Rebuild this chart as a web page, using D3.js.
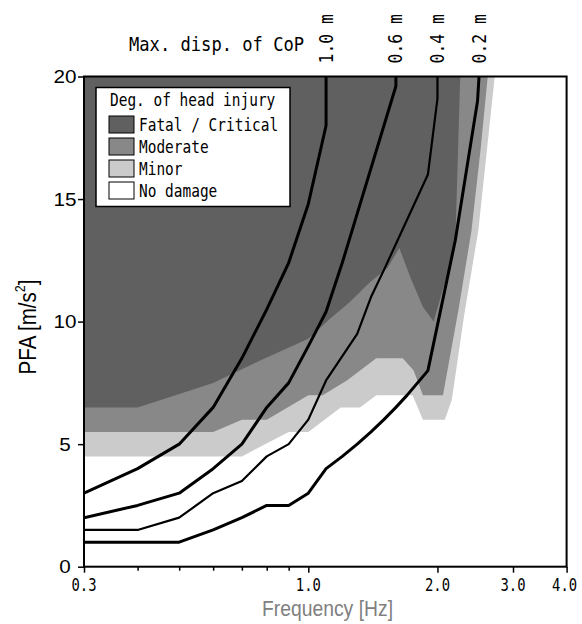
<!DOCTYPE html>
<html>
<head>
<meta charset="utf-8">
<script src="https://cdn.jsdelivr.net/npm/d3@7"></script>
<style>
  html, body { margin: 0; padding: 0; background: #fff; }
  svg { display: block; }
</style>
</head>
<body>
<svg id="chart" width="582" height="624"></svg>
<script>
// ---- data -------------------------------------------------------------
const freqMajorTicks = [0.3, 1.0, 2.0, 3.0, 4.0];
const freqMinorTicks = [0.4, 0.5, 0.6, 0.7, 0.8, 0.9];
const pfaTicks = [0, 5, 10, 15, 20];

// Lower edge of each injury zone as [frequency Hz, PFA m/s^2],
// running left to right and then up the right-hand edge to the top.
const minorEdge = [[0.3,4.5],[0.7,4.5],[0.9,5.5],[1.0,5.5],[1.19,6.5],[1.32,6.5],[1.44,7.0],
  [1.75,7.0],[1.85,6.0],[2.08,6.0],[2.16,6.8],[2.31,10.3],[2.49,13.7],[2.72,20]];
const moderateEdge = [[0.3,5.5],[0.6,5.5],[0.7,6.0],[0.8,6.0],[1.0,7.0],[1.08,7.0],[1.23,7.6],
  [1.44,8.5],[1.66,8.5],[1.76,8.0],[1.85,7.0],[2.06,7.0],[2.24,10.5],[2.4,13.7],[2.52,17],[2.62,20]];
const fatalEdge = [[0.3,6.5],[0.4,6.5],[0.6,7.5],[0.77,8.4],[1.0,9.3],[1.12,10.1],[1.25,10.8],
  [1.39,11.6],[1.53,12.2],[1.63,13.0],[1.73,11.8],[1.85,10.6],[1.96,10.0],[2.2,13.1],[2.26,20]];

// Contours of the maximum displacement of the centre of pressure
const cop10 = [[0.3,3.0],[0.4,4.0],[0.5,5.0],[0.6,6.5],[0.7,8.5],[0.8,10.5],[0.9,12.4],
  [1.0,14.8],[1.1,18.0],[1.1,20]];
const cop06 = [[0.3,2.0],[0.4,2.5],[0.5,3.0],[0.6,4.0],[0.7,5.0],[0.8,6.5],[0.9,7.5],
  [1.0,9.0],[1.1,10.4],[1.2,12.4],[1.6,19.6],[1.6,20]];
const cop04 = [[0.3,1.5],[0.4,1.5],[0.5,2.0],[0.6,3.0],[0.7,3.5],[0.8,4.5],[0.9,5.0],
  [1.0,6.0],[1.1,7.6],[1.3,9.5],[1.4,11.0],[1.5,12.1],[1.9,16.0],[2.0,19.1],[2.0,20]];
const cop02 = [[0.3,1.0],[0.5,1.0],[0.6,1.5],[0.7,2.0],[0.8,2.5],[0.9,2.5],[1.0,3.0],
  [1.1,4.0],[1.2,4.5],[1.3,5.0],[1.4,5.5],[1.5,6.0],[1.6,6.5],[1.7,7.0],[1.9,8.0],
  [2.2,13.3],[2.48,19.0],[2.5,20]];
const copLabels = ["1.0 m", "0.6 m", "0.4 m", "0.2 m"];

const legendTitle = "Deg. of head injury";
const legendLabels = ["Fatal / Critical", "Moderate", "Minor", "No damage"];

// ---- layout -----------------------------------------------------------
const svg = d3.select("#chart");
const plot = { left: 84, right: 566.6, top: 76.5, bottom: 566.7 };
const x = d3.scaleLog().domain([0.3, 4.0]).range([plot.left, plot.right]);
const y = d3.scaleLinear().domain([0, 20]).range([plot.bottom, plot.top]);

const zoneColors = ["#606060", "#888888", "#cbcbcb", "#ffffff"];
const monoFont = "'DejaVu Sans Mono', monospace";
const sansFont = "'Liberation Sans', Arial, sans-serif";

// squeezed monospace text: each character gets a fixed pitch
function monoText(sel, str, size, pitch) {
  return sel.text(str)
    .attr("font-family", monoFont)
    .attr("font-size", size)
    .attr("textLength", str.length * pitch)
    .attr("lengthAdjust", "spacingAndGlyphs");
}

svg.append("defs").append("clipPath").attr("id", "plotClip")
  .append("rect")
  .attr("x", plot.left).attr("y", plot.top)
  .attr("width", plot.right - plot.left).attr("height", plot.bottom - plot.top);

const area = svg.append("g").attr("clip-path", "url(#plotClip)");
const path = d3.line().x(d => x(d[0])).y(d => y(d[1]));

// injury zones, each closed along the top and the left edge
[[minorEdge, zoneColors[2]], [moderateEdge, zoneColors[1]], [fatalEdge, zoneColors[0]]]
  .forEach(([edge, col]) => {
    const poly = edge.concat([[0.3, 20]]);
    area.append("path").attr("d", path(poly) + "Z").attr("fill", col).attr("stroke", "none");
  });

// displacement contours
const copLines = [cop10, cop06, cop04, cop02];
const copWidths = [3, 3, 2.2, 3];
copLines.forEach((pts, i) => {
  area.append("path").attr("d", path(pts))
    .attr("fill", "none").attr("stroke", "#000")
    .attr("stroke-width", copWidths[i]).attr("stroke-linejoin", "round");
});

// frame
svg.append("rect")
  .attr("x", plot.left).attr("y", plot.top)
  .attr("width", plot.right - plot.left).attr("height", plot.bottom - plot.top)
  .attr("fill", "none").attr("stroke", "#000").attr("stroke-width", 2);

// x axis ticks
const xAxisMajor = d3.axisBottom(x).tickValues(freqMajorTicks).tickSize(6).tickFormat("");
const xAxisMinor = d3.axisBottom(x).tickValues(freqMinorTicks).tickSize(4).tickFormat("");
[xAxisMajor, xAxisMinor].forEach(ax => {
  const g = svg.append("g").attr("transform", `translate(0,${plot.bottom})`).call(ax);
  g.select(".domain").remove();
  g.selectAll("line").attr("stroke", "#000").attr("stroke-width", 1.5);
});
// tick labels: narrowed monospace digits
freqMajorTicks.forEach(v => {
  svg.append("text")
    .attr("transform", `translate(${x(v) - (v === 4.0 ? 2 : 0)},591) scale(0.77,1)`)
    .attr("text-anchor", "middle").attr("fill", "#000")
    .attr("font-family", monoFont).attr("font-size", 18)
    .text(v.toFixed(1));
});

// y axis ticks
const yAxis = d3.axisLeft(y).tickValues(pfaTicks).tickSize(6).tickFormat("");
const yg = svg.append("g").attr("transform", `translate(${plot.left},0)`).call(yAxis);
yg.select(".domain").remove();
yg.selectAll("line").attr("stroke", "#000").attr("stroke-width", 1.5);
pfaTicks.forEach(v => {
  const s = String(v);
  svg.append("text").attr("x", 65).attr("y", y(v) + 6.5)
    .attr("text-anchor", "middle")
    .attr("font-family", sansFont).attr("font-size", 18)
    .attr("textLength", s.length * 11.5).attr("lengthAdjust", "spacingAndGlyphs")
    .text(s);
});

// axis titles
svg.append("text").attr("x", 327.5).attr("y", 616)
  .attr("text-anchor", "middle").attr("fill", "#808080")
  .attr("font-family", sansFont).attr("font-size", 22)
  .attr("textLength", 131).attr("lengthAdjust", "spacingAndGlyphs")
  .text("Frequency [Hz]");

const yTitle = svg.append("text")
  .attr("transform", "translate(36,327) rotate(-90)")
  .attr("text-anchor", "middle").attr("fill", "#000")
  .attr("font-family", sansFont).attr("font-size", 23)
  .attr("textLength", 95).attr("lengthAdjust", "spacingAndGlyphs");
yTitle.append("tspan").text("PFA [m/s");
yTitle.append("tspan").attr("font-size", 14).attr("dy", -11).text("2");
yTitle.append("tspan").attr("dy", 11).text("]");

// contour labels along the top
const copTitle = svg.append("text").attr("x", 129).attr("y", 51).attr("fill", "#000");
monoText(copTitle, "Max. disp. of CoP", 20, 10.3);
copLines.forEach((pts, i) => {
  const last = pts[pts.length - 1];
  const t = svg.append("text")
    .attr("transform", `translate(${x(last[0]) + 6.5},63.5) rotate(-90)`)
    .attr("fill", "#000");
  monoText(t, copLabels[i], 19, 9.9);
});

// legend
const lg = svg.append("g");
lg.append("rect").attr("x", 96).attr("y", 87.5).attr("width", 194).attr("height", 119)
  .attr("fill", "#fff").attr("stroke", "#000").attr("stroke-width", 1.5);
monoText(lg.append("text").attr("x", 110).attr("y", 106), legendTitle, 17, 8.7);
legendLabels.forEach((lab, i) => {
  const rowTop = 116 + i * 22;
  lg.append("rect").attr("x", 109).attr("y", rowTop).attr("width", 25).attr("height", 17)
    .attr("fill", zoneColors[i]).attr("stroke", "#000").attr("stroke-width", 1);
  monoText(lg.append("text").attr("x", 139).attr("y", rowTop + 15), lab, 17, 8.7);
});
</script>
</body>
</html>
